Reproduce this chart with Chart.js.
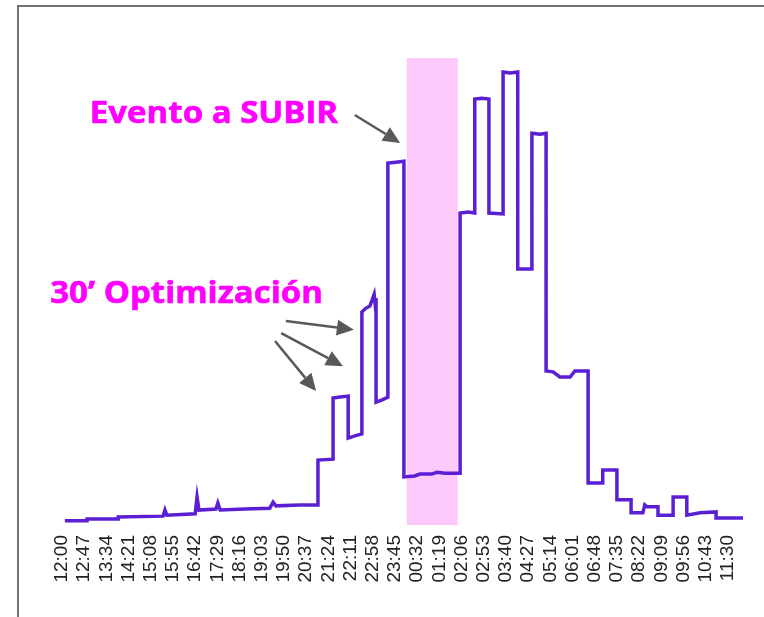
<!DOCTYPE html>
<html>
<head>
<meta charset="utf-8">
<script src="https://cdn.jsdelivr.net/npm/chart.js@4/dist/chart.umd.min.js"></script>
<style>
  html, body { margin: 0; padding: 0; background: #ffffff; }
  #wrap { width: 764px; height: 617px; }
</style>
</head>
<body>
<div id="wrap"><canvas id="chart" width="764" height="617"></canvas></div>
<script>
// x = minutes since 12:00, y = relative level (0-100, no y axis in the original)
const minutes = [
  6, 53, 53, 119, 119, 214, 218, 222, 282, 286, 290, 326, 330, 335, 387, 440, 447, 453, 504, 542,
  542, 574, 574, 589, 606, 606, 620, 635, 635, 643, 652, 656, 661, 663, 665, 665, 678, 690, 690, 707,
  724, 724, 747, 758, 783, 794, 811, 843, 843, 860, 874, 874, 889, 904, 904, 934, 934, 949, 965, 965,
  995, 995, 1012, 1025, 1025, 1040, 1054, 1076, 1086, 1114, 1114, 1145, 1145, 1175, 1175, 1205, 1205, 1230, 1234, 1239,
  1262, 1262, 1294, 1294, 1323, 1323, 1351, 1385, 1385, 1442
];
const level = [
  0.9, 0.9, 1.3, 1.3, 1.7, 1.9, 3.2, 2.1, 2.4, 6.0, 3.2, 3.4, 4.7, 3.2, 3.4, 3.6, 4.9, 4.1, 4.3, 4.3,
  13.9, 14.1, 27.2, 27.4, 27.6, 18.6, 19.1, 19.5, 45.6, 46.4, 46.9, 48.0, 49.4, 47.4, 48.6, 26.3, 26.8, 27.4, 77.5, 77.7,
  77.9, 10.3, 10.5, 10.9, 10.9, 11.3, 11.1, 11.1, 66.8, 67.0, 66.8, 91.2, 91.4, 91.2, 66.8, 66.6, 97.0, 96.8, 97.0, 54.8,
  54.8, 83.9, 83.7, 83.9, 33.0, 32.8, 31.7, 31.7, 33.0, 33.0, 9.0, 9.0, 11.8, 11.8, 5.4, 5.4, 2.6, 2.6, 4.3, 3.9,
  3.9, 2.1, 2.1, 6.0, 6.0, 2.1, 2.6, 2.8, 1.5, 1.5
];
const tickLabels = [
  '12:00', '12:47', '13:34', '14:21', '15:08', '15:55', '16:42', '17:29', '18:16', '19:03', '19:50',
  '20:37', '21:24', '22:11', '22:58', '23:45', '00:32', '01:19', '02:06', '02:53', '03:40', '04:27',
  '05:14', '06:01', '06:48', '07:35', '08:22', '09:09', '09:56', '10:43', '11:30'
];
// shaded event window (minutes since 12:00)
const bandStart = 730;
const bandEnd = 838;

const annotations = [
  { text: 'Evento a SUBIR', x: 59, y: 86.1 },
  { text: '30\u2019 Optimización', x: -25, y: 47.5 }
];
const arrows = [
  { from: [620, 87.8], to: [716, 81.8] },
  { from: [474, 43.7], to: [618, 41.8] },
  { from: [464, 41.1], to: [595, 34.0] },
  { from: [451, 39.4], to: [538, 28.7] }
];

function labelToMinutes(lbl) {
  const parts = lbl.split(':');
  const m = parseInt(parts[0], 10) * 60 + parseInt(parts[1], 10);
  return (m - 720 + 1440) % 1440;
}

const points = minutes.map((m, i) => ({ x: m, y: level[i] }));

const framePlugin = {
  id: 'frame',
  beforeDraw(chart) {
    const ctx = chart.ctx;
    ctx.save();
    ctx.fillStyle = '#ffffff';
    ctx.fillRect(0, 0, chart.width, chart.height);
    ctx.strokeStyle = '#727272';
    ctx.lineWidth = 2;
    ctx.beginPath();
    ctx.moveTo(18, chart.height);
    ctx.lineTo(18, 6);
    ctx.lineTo(chart.width, 6);
    ctx.stroke();
    ctx.restore();
  }
};

const bandPlugin = {
  id: 'band',
  beforeDatasetsDraw(chart) {
    const { ctx, chartArea, scales } = chart;
    const x0 = scales.x.getPixelForValue(bandStart);
    const x1 = scales.x.getPixelForValue(bandEnd);
    ctx.save();
    ctx.fillStyle = '#fdc9fb';
    ctx.fillRect(x0, chartArea.top, x1 - x0, chartArea.bottom - chartArea.top);
    ctx.restore();
  }
};

const notesPlugin = {
  id: 'notes',
  afterDatasetsDraw(chart) {
    const { ctx, scales } = chart;
    ctx.save();
    ctx.fillStyle = '#ff00ff';
    ctx.font = 'bold 30px "Open Sans", sans-serif';
    ctx.textBaseline = 'alphabetic';
    ctx.textAlign = 'left';
    annotations.forEach(a => {
      // the original font is wider than Open Sans, stretch a little
      ctx.save();
      ctx.translate(scales.x.getPixelForValue(a.x), scales.y.getPixelForValue(a.y));
      ctx.scale(1.1, 1);
      ctx.fillText(a.text, 0, 0);
      ctx.strokeStyle = '#ff00ff';
      ctx.lineWidth = 0.6;
      ctx.strokeText(a.text, 0, 0);
      ctx.restore();
    });

    ctx.strokeStyle = '#595959';
    ctx.fillStyle = '#595959';
    ctx.lineWidth = 2.5;
    arrows.forEach(ar => {
      const x0 = scales.x.getPixelForValue(ar.from[0]);
      const y0 = scales.y.getPixelForValue(ar.from[1]);
      const x1 = scales.x.getPixelForValue(ar.to[0]);
      const y1 = scales.y.getPixelForValue(ar.to[1]);
      const ang = Math.atan2(y1 - y0, x1 - x0);
      const headLen = 17, headW = 8;
      const bx = x1 - headLen * Math.cos(ang);
      const by = y1 - headLen * Math.sin(ang);
      ctx.beginPath();
      ctx.moveTo(x0, y0);
      ctx.lineTo(bx, by);
      ctx.stroke();
      ctx.beginPath();
      ctx.moveTo(x1, y1);
      ctx.lineTo(bx + headW * Math.sin(ang), by - headW * Math.cos(ang));
      ctx.lineTo(bx - headW * Math.sin(ang), by + headW * Math.cos(ang));
      ctx.closePath();
      ctx.fill();
    });
    ctx.restore();
  }
};

new Chart(document.getElementById('chart'), {
  type: 'line',
  data: {
    datasets: [{
      data: points,
      borderColor: '#5a1fd3',
      borderWidth: 3.5,
      pointRadius: 0,
      tension: 0,
      fill: false
    }]
  },
  options: {
    responsive: false,
    animation: false,
    devicePixelRatio: 1,
    layout: { padding: { left: 62, right: 21, top: 58, bottom: 0 } },
    plugins: { legend: { display: false }, tooltip: { enabled: false } },
    scales: {
      x: {
        type: 'linear',
        min: 0,
        max: 1442,
        grid: { display: false, drawTicks: false },
        border: { display: false },
        afterBuildTicks: (scale) => {
          scale.ticks = tickLabels.map(l => ({ value: labelToMinutes(l) }));
        },
        afterFit: (scale) => { scale.height = 92; },
        ticks: {
          autoSkip: false,
          maxRotation: 90,
          minRotation: 90,
          padding: 10,
          color: '#222222',
          font: { family: '"Liberation Sans", Arial, sans-serif', size: 19 },
          callback: (value, index) => tickLabels[index]
        }
      },
      y: {
        display: false,
        min: 0,
        max: 100
      }
    }
  },
  plugins: [framePlugin, bandPlugin, notesPlugin]
});
</script>
</body>
</html>
